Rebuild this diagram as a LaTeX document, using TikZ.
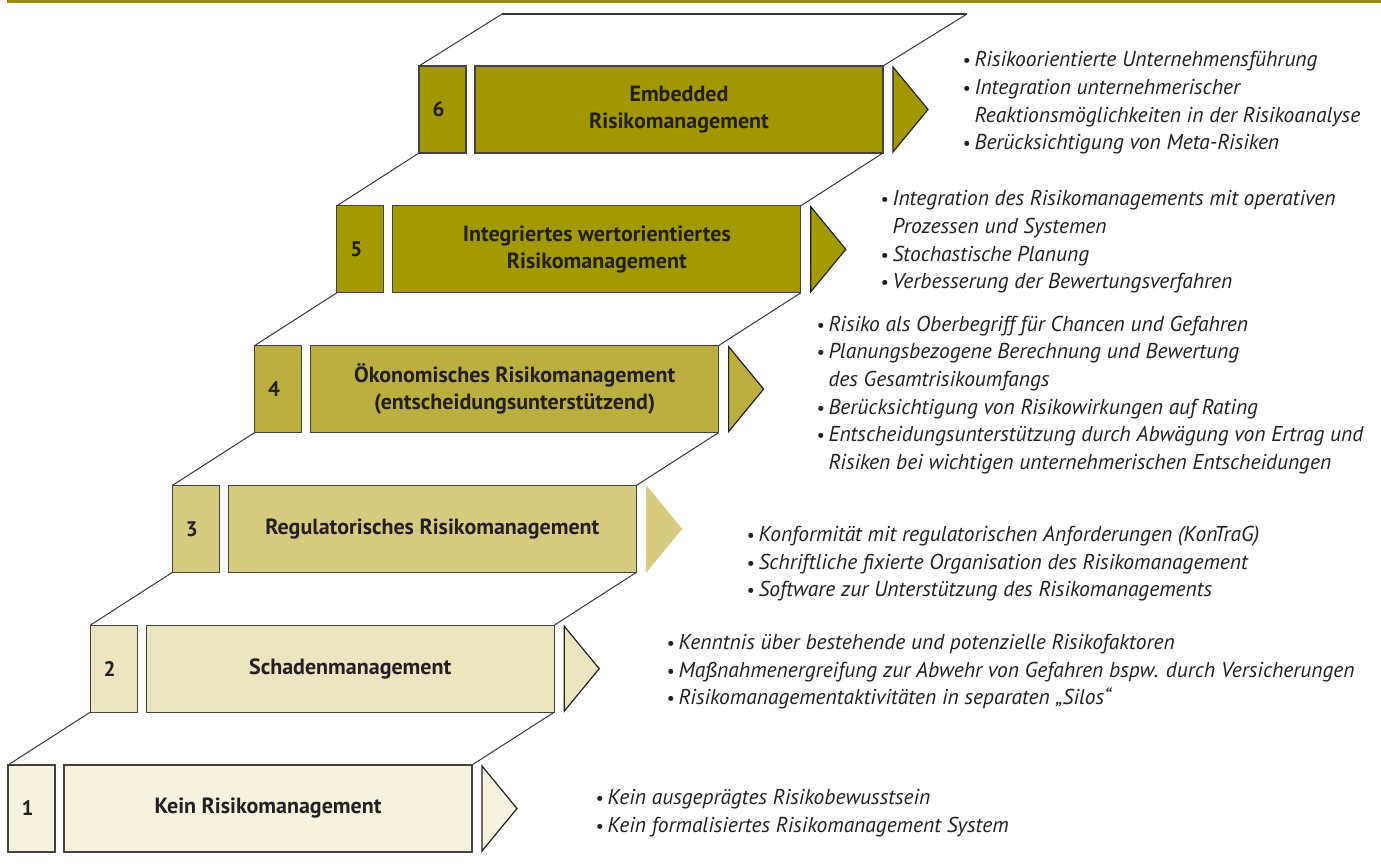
\documentclass[tikz,border=0pt]{standalone}
\usepackage{fontspec}
\setmainfont{PT Sans}
\usetikzlibrary{positioning}
\definecolor{olivebar}{HTML}{9A8C12}
\definecolor{lvl6}{HTML}{A39700}
\definecolor{lvl5}{HTML}{A39A00}
\definecolor{lvl4}{HTML}{BAAF40}
\definecolor{lvl3}{HTML}{D5CC82}
\definecolor{lvl2}{HTML}{EBE5C0}
\definecolor{lvl1}{HTML}{F5F2DD}
\definecolor{ink}{HTML}{231F20}
\colorlet{edge1}{ink}
\colorlet{edge2}{ink}
\colorlet{edge3}{lvl3}
\colorlet{edge4}{ink}
\colorlet{edge5}{ink}
\colorlet{edge6}{ink}
\newcommand{\bul}{{\small\textbullet}\hspace{2pt}}
\newcommand{\indt}{\phantom{\bul}}
\tikzset{
  numbox/.style={draw=ink!85, line width=0.6pt, minimum width=23.5pt, minimum height=43.5pt,
    inner sep=0pt, outer sep=0pt, font=\bfseries\fontsize{10.5}{12}\selectfont, text=ink},
  stagebox/.style={draw=ink!85, line width=0.6pt, minimum width=204pt, minimum height=43.5pt,
    inner sep=0pt, outer sep=0pt, align=center, font=\bfseries\fontsize{11}{13.5}\selectfont, text=ink},
  tipshape/.style={line width=0.6pt, line join=miter},
  facet/.style={draw=ink!90, line width=0.5pt},
  notes/.style={anchor=west, align=left, inner sep=0pt,
    font=\itshape\fontsize{10.75}{13.8}\selectfont, text=ink},
}
\begin{document}
\begin{tikzpicture}[x=0.5pt,y=-0.5pt]
  \useasboundingbox (0,0) rectangle (1381,866);
  \fill[olivebar] (7,0) rectangle (1381,3);
  % stairs
  \foreach \k/\lab in {1/{Kein Risikomanagement}, 2/{Schadenmanagement},
      3/{Regulatorisches Risikomanagement},
      4/{Ökonomisches Risikomanagement\\(entscheidungsunterstützend)},
      5/{Integriertes wertorientiertes\\Risikomanagement},
      6/{Embedded\\Risikomanagement}}{
    \pgfmathsetmacro\x{8+82.2*(\k-1)}
    \pgfmathsetmacro\y{765-139.8*(\k-1)}
    \node[numbox, fill=lvl\k] (n\k) at (\x+23.5,\y+43.5) {\raisebox{-2pt}{\k}\hspace*{4pt}};
    \node[stagebox, fill=lvl\k] (s\k) at (\x+260,\y+43.5) {\lab};
    \draw[tipshape, draw=edge\k, fill=lvl\k] (\x+474,\y+1) -- (\x+509,\y+43.5)
      -- (\x+474,\y+86) -- cycle;
  }
  \foreach \k in {1,...,5}{
    \pgfmathtruncatemacro\j{\k+1}
    \draw[facet] (n\k.north west) -- (n\j.south west);
    \draw[facet] (s\k.north east) -- (s\j.south east);
  }
  \coordinate (topL) at (502,14);
  \coordinate (topR) at (967,14);
  \draw[facet] (n6.north west) -- (topL);
  \draw[facet, line width=1.2pt] (topL) -- (topR);
  \draw[facet] (topR) -- (s6.north east);
  % notes
  \node[notes] (b6) at (962,103) {\bul Risikoorientierte Unternehmensführung\\
    \bul Integration unternehmerischer\\
    \indt Reaktionsmöglichkeiten in der Risikoanalyse\\
    \bul Berücksichtigung von Meta-Risiken};
  \node[notes] (b5) at (880,242) {\bul Integration des Risikomanagements mit operativen\\
    \indt Prozessen und Systemen\\
    \bul Stochastische Planung\\
    \bul Verbesserung der Bewertungsverfahren};
  \node[notes] (b4) at (816,395) {\bul Risiko als Oberbegriff für Chancen und Gefahren\\
    \bul Planungsbezogene Berechnung und Bewertung\\
    \indt des Gesamtrisikoumfangs\\
    \bul Berücksichtigung von Risikowirkungen auf Rating\\
    \bul Entscheidungsunterstützung durch Abwägung von Ertrag und\\
    \indt Risiken bei wichtigen unternehmerischen Entscheidungen};
  \node[notes] (b3) at (746,564) {\bul Konformität mit regulatorischen Anforderungen (KonTraG)\\
    \bul Schriftliche fixierte Organisation des Risikomanagement\\
    \bul Software zur Unterstützung des Risikomanagements};
  \node[notes] (b2) at (666,672) {\bul Kenntnis über bestehende und potenzielle Risikofaktoren\\
    \bul Maßnahmenergreifung zur Abwehr von Gefahren bspw. durch Versicherungen\\
    \bul Risikomanagementaktivitäten in separaten „Silos“};
  \node[notes] (b1) at (595,813) {\bul Kein ausgeprägtes Risikobewusstsein\\
    \bul Kein formalisiertes Risikomanagement System};
\end{tikzpicture}
\end{document}
